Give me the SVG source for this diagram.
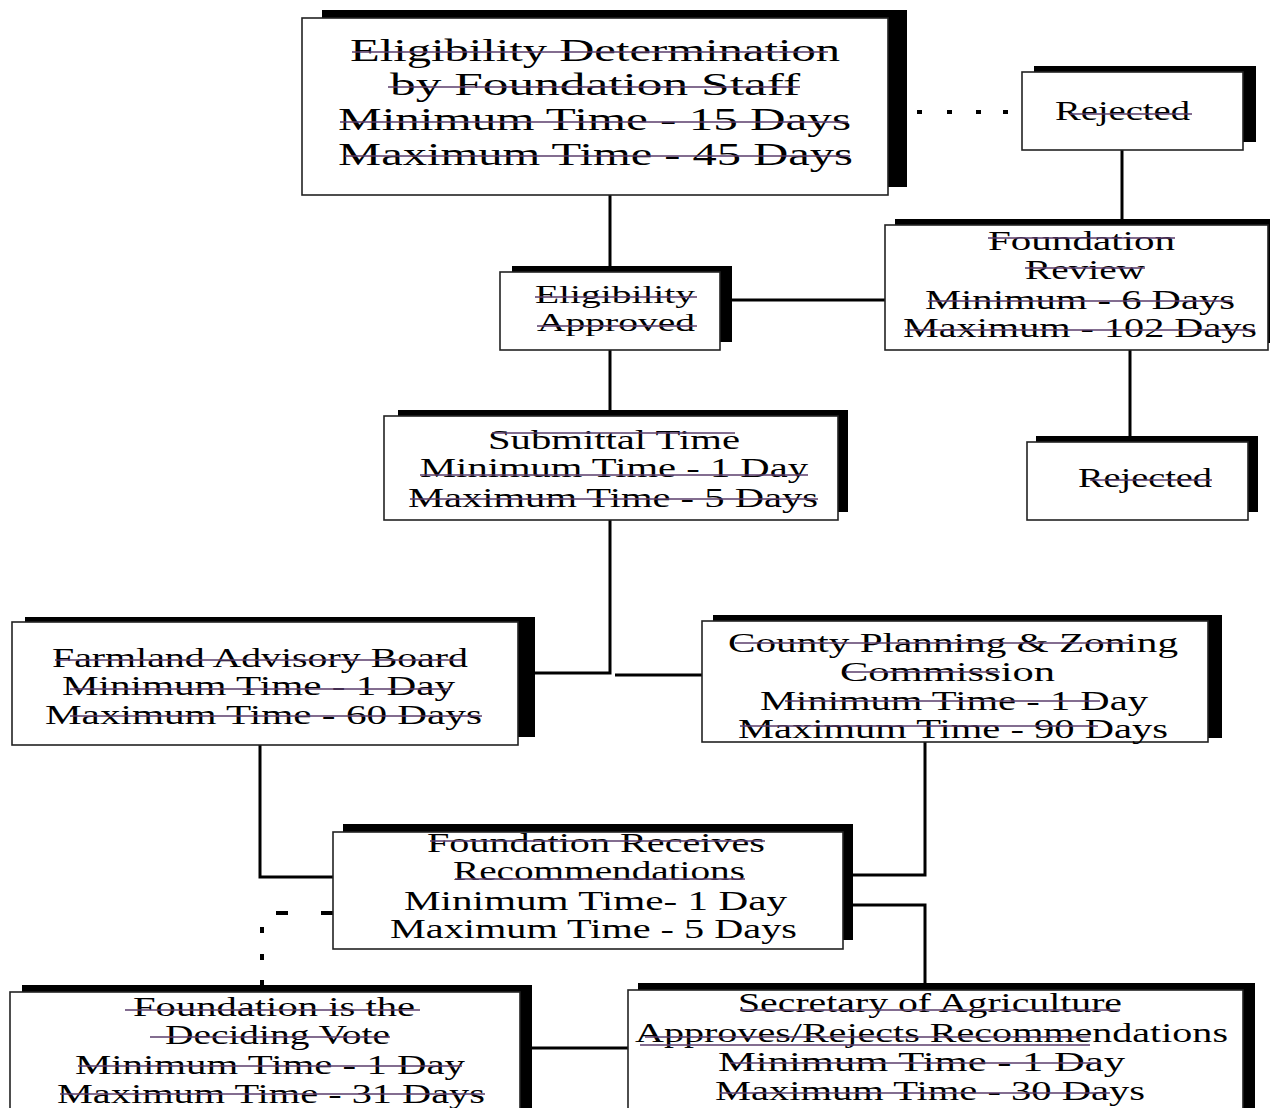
<svg xmlns="http://www.w3.org/2000/svg" width="1270" height="1108" viewBox="0 0 1270 1108">
<style>
.sh{fill:#000}
.bx{fill:#fff;stroke:#222;stroke-width:1.6}
.t{font-family:"Liberation Serif","Times New Roman",serif;fill:#000;text-anchor:start}
.st{stroke:#5a3d6b;stroke-width:1.4}
.cn{stroke:#000;stroke-width:3;fill:none}
.dt{stroke:#000;stroke-width:4;fill:none}
</style>
<rect width="1270" height="1108" fill="#fff"/>
<g id="connectors">
<line class="cn" x1="610" y1="195" x2="610" y2="268"/>
<line class="cn" x1="732" y1="300" x2="885" y2="300"/>
<line class="cn" x1="610" y1="350" x2="610" y2="412"/>
<line class="cn" x1="1122" y1="150" x2="1122" y2="221"/>
<line class="cn" x1="1130" y1="350" x2="1130" y2="438"/>
<polyline class="cn" points="610,520 610,673 535,673"/>
<line class="cn" x1="615" y1="675" x2="703" y2="675"/>
<polyline class="cn" points="260,745 260,877 333,877"/>
<polyline class="cn" points="925,742 925,875 853,875"/>
<polyline class="cn" points="853,905 925,905 925,985"/>
<line class="cn" x1="532" y1="1048" x2="628" y2="1048"/>
<line class="dt" x1="276" y1="913" x2="288" y2="913"/>
<line class="dt" x1="321" y1="913" x2="333" y2="913"/>
<line class="dt" x1="262" y1="927" x2="262" y2="933"/>
<line class="dt" x1="262" y1="954" x2="262" y2="960"/>
<line class="dt" x1="262" y1="980" x2="262" y2="986"/>
<line class="dt" x1="917" y1="112" x2="922" y2="112"/>
<line class="dt" x1="947" y1="112" x2="952" y2="112"/>
<line class="dt" x1="976" y1="112" x2="981" y2="112"/>
<line class="dt" x1="1003" y1="112" x2="1008" y2="112"/>
</g>
<g id="n1">
<rect class="sh" x="322" y="10" width="585" height="177"/>
<rect class="bx" x="302" y="18" width="586" height="177"/>
<text class="t" font-size="32" x="350" y="61" textLength="490" lengthAdjust="spacingAndGlyphs">Eligibility Determination</text>
<text class="t" font-size="32" x="390" y="95" textLength="410" lengthAdjust="spacingAndGlyphs">by Foundation Staff</text>
<text class="t" font-size="32" x="338" y="130" textLength="513" lengthAdjust="spacingAndGlyphs">Minimum Time - 15 Days</text>
<text class="t" font-size="32" x="338" y="165" textLength="515" lengthAdjust="spacingAndGlyphs">Maximum Time - 45 Days</text>
<line class="st" x1="352" y1="52" x2="828" y2="52"/>
<line class="st" x1="388" y1="87" x2="800" y2="87"/>
<line class="st" x1="340" y1="122" x2="848" y2="122"/>
<line class="st" x1="345" y1="156" x2="850" y2="156"/>
</g>
<g id="n2">
<rect class="sh" x="1034" y="66" width="222" height="76"/>
<rect class="bx" x="1022" y="72" width="221" height="78"/>
<text class="t" font-size="27" x="1055" y="120" textLength="135" lengthAdjust="spacingAndGlyphs">Rejected</text>
<line class="st" x1="1070" y1="114" x2="1192" y2="114"/>
</g>
<g id="n3">
<rect class="sh" x="895" y="219" width="375" height="124"/>
<rect class="bx" x="885" y="225" width="383" height="125"/>
<text class="t" font-size="27" x="988" y="250" textLength="187" lengthAdjust="spacingAndGlyphs">Foundation</text>
<text class="t" font-size="27" x="1025" y="279" textLength="120" lengthAdjust="spacingAndGlyphs">Review</text>
<text class="t" font-size="27" x="925" y="309" textLength="310" lengthAdjust="spacingAndGlyphs">Minimum - 6 Days</text>
<text class="t" font-size="27" x="903" y="337" textLength="354" lengthAdjust="spacingAndGlyphs">Maximum - 102 Days</text>
<line class="st" x1="988" y1="238" x2="1175" y2="238"/>
<line class="st" x1="1025" y1="268" x2="1145" y2="268"/>
<line class="st" x1="928" y1="301" x2="1232" y2="301"/>
<line class="st" x1="905" y1="330" x2="1255" y2="330"/>
</g>
<g id="n4">
<rect class="sh" x="512" y="266" width="220" height="76"/>
<rect class="bx" x="500" y="272" width="220" height="78"/>
<text class="t" font-size="26" x="535" y="303" textLength="160" lengthAdjust="spacingAndGlyphs">Eligibility</text>
<text class="t" font-size="26" x="537" y="331" textLength="158" lengthAdjust="spacingAndGlyphs">Approved</text>
<line class="st" x1="535" y1="297" x2="697" y2="297"/>
<line class="st" x1="537" y1="326" x2="697" y2="326"/>
</g>
<g id="n5">
<rect class="sh" x="398" y="410" width="450" height="102"/>
<rect class="bx" x="384" y="416" width="454" height="104"/>
<text class="t" font-size="27" x="488" y="449" textLength="252" lengthAdjust="spacingAndGlyphs">Submittal Time</text>
<text class="t" font-size="27" x="420" y="477" textLength="388" lengthAdjust="spacingAndGlyphs">Minimum Time - 1 Day</text>
<text class="t" font-size="27" x="408" y="507" textLength="410" lengthAdjust="spacingAndGlyphs">Maximum Time - 5 Days</text>
<line class="st" x1="492" y1="433" x2="735" y2="433"/>
<line class="st" x1="420" y1="475" x2="808" y2="475"/>
<line class="st" x1="410" y1="499" x2="818" y2="499"/>
</g>
<g id="n6">
<rect class="sh" x="1036" y="436" width="222" height="76"/>
<rect class="bx" x="1027" y="442" width="221" height="78"/>
<text class="t" font-size="27" x="1078" y="487" textLength="134" lengthAdjust="spacingAndGlyphs">Rejected</text>
<line class="st" x1="1090" y1="480" x2="1212" y2="480"/>
</g>
<g id="n7">
<rect class="sh" x="25" y="617" width="510" height="120"/>
<rect class="bx" x="12" y="622" width="506" height="123"/>
<text class="t" font-size="27" x="52" y="667" textLength="416" lengthAdjust="spacingAndGlyphs">Farmland Advisory Board</text>
<text class="t" font-size="27" x="62" y="695" textLength="393" lengthAdjust="spacingAndGlyphs">Minimum Time - 1 Day</text>
<text class="t" font-size="27" x="45" y="724" textLength="437" lengthAdjust="spacingAndGlyphs">Maximum Time - 60 Days</text>
<line class="st" x1="55" y1="660" x2="462" y2="660"/>
<line class="st" x1="70" y1="689" x2="450" y2="689"/>
<line class="st" x1="70" y1="716" x2="482" y2="716"/>
</g>
<g id="n8">
<rect class="sh" x="713" y="615" width="509" height="123"/>
<rect class="bx" x="702" y="621" width="506" height="121"/>
<text class="t" font-size="27" x="728" y="652" textLength="450" lengthAdjust="spacingAndGlyphs">County Planning &amp; Zoning</text>
<text class="t" font-size="27" x="840" y="681" textLength="215" lengthAdjust="spacingAndGlyphs">Commission</text>
<text class="t" font-size="27" x="760" y="710" textLength="388" lengthAdjust="spacingAndGlyphs">Minimum Time - 1 Day</text>
<text class="t" font-size="27" x="738" y="738" textLength="430" lengthAdjust="spacingAndGlyphs">Maximum Time - 90 Days</text>
<line class="st" x1="735" y1="643" x2="1130" y2="643"/>
<line class="st" x1="845" y1="672" x2="1000" y2="672"/>
<line class="st" x1="785" y1="701" x2="1100" y2="701"/>
<line class="st" x1="740" y1="726" x2="1098" y2="726"/>
</g>
<g id="n9">
<rect class="sh" x="343" y="824" width="510" height="116"/>
<rect class="bx" x="333" y="832" width="510" height="117"/>
<text class="t" font-size="27" x="427" y="852" textLength="338" lengthAdjust="spacingAndGlyphs">Foundation Receives</text>
<text class="t" font-size="27" x="453" y="880" textLength="292" lengthAdjust="spacingAndGlyphs">Recommendations</text>
<text class="t" font-size="27" x="404" y="910" textLength="383" lengthAdjust="spacingAndGlyphs">Minimum Time- 1 Day</text>
<text class="t" font-size="27" x="390" y="938" textLength="407" lengthAdjust="spacingAndGlyphs">Maximum Time - 5 Days</text>
<line class="st" x1="430" y1="841" x2="765" y2="841"/>
<line class="st" x1="455" y1="879" x2="745" y2="879"/>
</g>
<g id="n10">
<rect class="sh" x="22" y="985" width="510" height="130"/>
<rect class="bx" x="10" y="992" width="510" height="130"/>
<text class="t" font-size="27" x="133" y="1016" textLength="282" lengthAdjust="spacingAndGlyphs">Foundation is the</text>
<text class="t" font-size="27" x="165" y="1044" textLength="225" lengthAdjust="spacingAndGlyphs">Deciding Vote</text>
<text class="t" font-size="27" x="75" y="1074" textLength="390" lengthAdjust="spacingAndGlyphs">Minimum Time - 1 Day</text>
<text class="t" font-size="27" x="57" y="1103" textLength="428" lengthAdjust="spacingAndGlyphs">Maximum Time - 31 Days</text>
<line class="st" x1="125" y1="1010" x2="420" y2="1010"/>
<line class="st" x1="150" y1="1037" x2="390" y2="1037"/>
<line class="st" x1="78" y1="1066" x2="462" y2="1066"/>
<line class="st" x1="60" y1="1094" x2="485" y2="1094"/>
</g>
<g id="n11">
<rect class="sh" x="638" y="983" width="617" height="132"/>
<rect class="bx" x="628" y="990" width="615" height="130"/>
<text class="t" font-size="27" x="738" y="1012" textLength="384" lengthAdjust="spacingAndGlyphs">Secretary of Agriculture</text>
<text class="t" font-size="27" x="635" y="1042" textLength="593" lengthAdjust="spacingAndGlyphs">Approves/Rejects Recommendations</text>
<text class="t" font-size="27" x="718" y="1071" textLength="407" lengthAdjust="spacingAndGlyphs">Minimum Time - 1 Day</text>
<text class="t" font-size="27" x="715" y="1100" textLength="430" lengthAdjust="spacingAndGlyphs">Maximum Time - 30 Days</text>
<line class="st" x1="740" y1="1010" x2="1120" y2="1010"/>
<line class="st" x1="645" y1="1037" x2="1090" y2="1037"/>
<line class="st" x1="640" y1="1045" x2="1090" y2="1045"/>
<line class="st" x1="730" y1="1063" x2="1100" y2="1063"/>
<line class="st" x1="720" y1="1093" x2="1110" y2="1093"/>
</g>
</svg>
